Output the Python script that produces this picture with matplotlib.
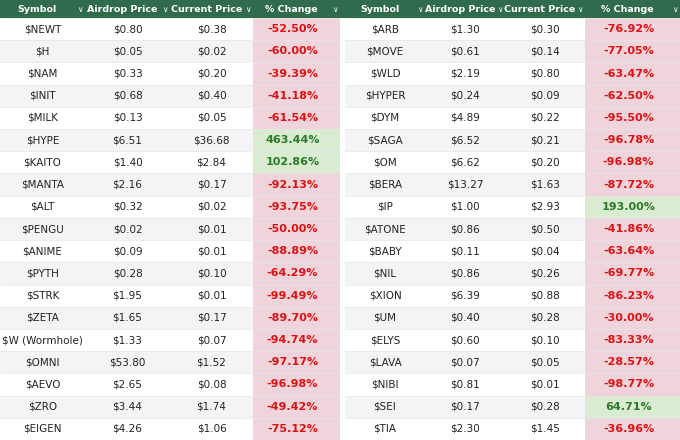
import matplotlib
matplotlib.use("Agg")
import matplotlib.pyplot as plt
from matplotlib.patches import Rectangle

headers = ["Symbol", "Airdrop Price", "Current Price", "% Change"]
left_sym = ["$NEWT","$H","$NAM","$INIT","$MILK","$HYPE","$KAITO","$MANTA","$ALT","$PENGU","$ANIME","$PYTH","$STRK","$ZETA","$W (Wormhole)","$OMNI","$AEVO","$ZRO","$EIGEN"]
left_air = ["$0.80","$0.05","$0.33","$0.68","$0.13","$6.51","$1.40","$2.16","$0.32","$0.02","$0.09","$0.28","$1.95","$1.65","$1.33","$53.80","$2.65","$3.44","$4.26"]
left_cur = ["$0.38","$0.02","$0.20","$0.40","$0.05","$36.68","$2.84","$0.17","$0.02","$0.01","$0.01","$0.10","$0.01","$0.17","$0.07","$1.52","$0.08","$1.74","$1.06"]
left_chg = [-52.50,-60.00,-39.39,-41.18,-61.54,463.44,102.86,-92.13,-93.75,-50.00,-88.89,-64.29,-99.49,-89.70,-94.74,-97.17,-96.98,-49.42,-75.12]
right_sym = ["$ARB","$MOVE","$WLD","$HYPER","$DYM","$SAGA","$OM","$BERA","$IP","$ATONE","$BABY","$NIL","$XION","$UM","$ELYS","$LAVA","$NIBI","$SEI","$TIA"]
right_air = ["$1.30","$0.61","$2.19","$0.24","$4.89","$6.52","$6.62","$13.27","$1.00","$0.86","$0.11","$0.86","$6.39","$0.40","$0.60","$0.07","$0.81","$0.17","$2.30"]
right_cur = ["$0.30","$0.14","$0.80","$0.09","$0.22","$0.21","$0.20","$1.63","$2.93","$0.50","$0.04","$0.26","$0.88","$0.28","$0.10","$0.05","$0.01","$0.28","$1.45"]
right_chg = [-76.92,-77.05,-63.47,-62.50,-95.50,-96.78,-96.98,-87.72,193.00,-41.86,-63.64,-69.77,-86.23,-30.00,-83.33,-28.57,-98.77,64.71,-36.96]

W, H = 680, 440
fig = plt.figure(figsize=(6.8, 4.4), dpi=100)
ax = fig.add_axes([0, 0, 1, 1])
ax.set_xlim(0, W); ax.set_ylim(H, 0); ax.axis("off")

hdr_h = 18
row_h = (H - hdr_h) / 19.0
tables = [
    ([0, 85, 170, 253, 340], left_sym, left_air, left_cur, left_chg),
    ([345, 425, 505, 585, 680], right_sym, right_air, right_cur, right_chg),
]
ax.add_patch(Rectangle((0, 0), W, hdr_h, color="#2f6b4c", lw=0))
ax.add_patch(Rectangle((340, 0), 5, H, color="#ffffff", lw=0, zorder=0))
for edges, sym, air, cur, chg in tables:
    for j, h in enumerate(headers):
        cx = (edges[j] + edges[j+1]) / 2 - 5
        ax.text(cx, hdr_h/2, h, color="white", fontsize=6.8, fontweight="bold", ha="center", va="center")
        ax.text(edges[j+1] - 5, hdr_h/2, "∨", color="white", fontsize=5.5, ha="center", va="center")
    for i in range(19):
        y0 = hdr_h + i * row_h
        yc = y0 + row_h / 2
        bg = "#ffffff" if i % 2 == 0 else "#f4f4f6"
        ax.add_patch(Rectangle((edges[0], y0), edges[4]-edges[0], row_h, color=bg, lw=0, zorder=0.5))
        v = chg[i]
        cbg = "#d9ecd1" if v > 0 else "#f0d4dc"
        ax.add_patch(Rectangle((edges[3], y0), edges[4]-edges[3], row_h, color=cbg, lw=0, zorder=1))
        ax.plot([edges[0], edges[4]], [y0, y0], color="#e6e6e6", lw=0.5, zorder=1.5)
        vals = [sym[i], air[i], cur[i]]
        for j, t in enumerate(vals):
            ax.text((edges[j]+edges[j+1])/2, yc, t, fontsize=7.5, color="#222222", ha="center", va="center", zorder=2)
        ax.text((edges[3]+edges[4])/2 - 4, yc, f"{v:.2f}%", fontsize=8, fontweight="bold",
                color="#2a7a2a" if v > 0 else "#e01010", ha="center", va="center", zorder=2)

fig.savefig("out.png", dpi=100)
